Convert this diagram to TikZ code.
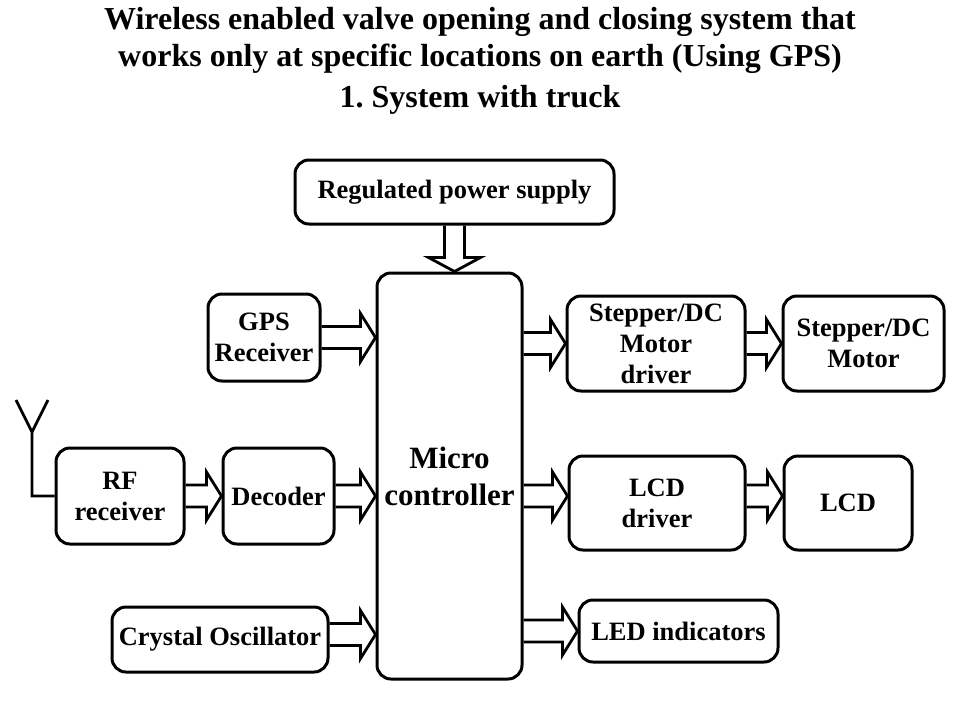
\documentclass[tikz,border=0pt]{standalone}
\usepackage{fontspec}
\setmainfont{Liberation Serif}
\usetikzlibrary{calc}

\newcommand{\harr}[2]{%
  \draw[barrow] let \p1=(#1), \p2=(#2) in
    ({\x1},{\y1+11pt}) -- ({\x2-15pt},{\y1+11pt}) -- ({\x2-15pt},{\y1+24pt}) -- ({\x2},{\y1})
    -- ({\x2-15pt},{\y1-24pt}) -- ({\x2-15pt},{\y1-11pt}) -- ({\x1},{\y1-11pt});}
\newcommand{\varr}[2]{%
  \draw[barrow] let \p1=(#1), \p2=(#2) in
    ({\x1-10pt},{\y1}) -- ({\x1-10pt},{\y2+14pt}) -- ({\x1-26pt},{\y2+14pt}) -- ({\x1},{\y2})
    -- ({\x1+26pt},{\y2+14pt}) -- ({\x1+10pt},{\y2+14pt}) -- ({\x1+10pt},{\y1});}

\begin{document}
\frenchspacing
\begin{tikzpicture}[x=1pt,y=-1pt,
    blk/.style={draw, rounded corners=14pt, line width=3pt, align=center, inner sep=0pt,
      font=\fontsize{26.5}{31}\selectfont\bfseries},
    barrow/.style={draw, line width=2.8pt, line join=miter},
    wire/.style={draw, line width=2.8pt},
    ttl/.style={font=\fontsize{32}{36}\selectfont\bfseries}]
				\useasboundingbox (0,0) rectangle (960,720);
				
				\node[ttl] (t1) at (480,22) {Wireless enabled valve opening and closing system that};
				\node[ttl] (t2) at (480,59) {works only at specific locations on earth (Using GPS)};
				\node[ttl] (t3) at (480,100) {1. System with truck};
				
				\node[blk, minimum width=319, minimum height=64] (psu) at (454.5,192) {Regulated power supply};
				\node[blk, minimum width=145, minimum height=406, font=\fontsize{31}{37}\selectfont\bfseries] (mcu) at (449.5,476) {Micro\\controller};
				\node[blk, minimum width=112, minimum height=87] (gps) at (264,337.5) {GPS\\Receiver};
				\node[blk, minimum width=128, minimum height=96] (rf) at (120,496) {RF\\receiver};
				\node[blk, minimum width=111, minimum height=96] (dec) at (278.5,496) {Decoder};
				\node[blk, minimum width=216, minimum height=65] (xtal) at (220,639.5) {Crystal Oscillator};
				\node[blk, minimum width=178, minimum height=95] (drv) at (656,343.5) {Stepper/DC\\Motor\\driver};
				\node[blk, minimum width=161, minimum height=95] (mot) at (863.5,343.5) {Stepper/DC\\Motor};
				\node[blk, minimum width=176, minimum height=94] (lcdd) at (657,503) {LCD\\driver};
				\node[blk, minimum width=128, minimum height=94] (lcd) at (848,503) {LCD};
				\node[blk, minimum width=199, minimum height=62] (led) at (678.5,631) {LED indicators};
				
				% antenna
				\coordinate (ant) at (32,432);
				\draw[wire] (rf.west) -| (ant) -- (16,400);
				\draw[wire] (ant) -- (48,400);
				
				\varr{psu.south}{psu.south |- mcu.north}
				\harr{gps.east}{gps.east -| mcu.west}
				\harr{rf.east}{dec.west |- rf.east}
				\harr{dec.east}{dec.east -| mcu.west}
				\harr{$(xtal.east)+(0,-5)$}{$(xtal.east -| mcu.west)+(0,-5)$}
				\harr{drv.west -| mcu.east}{drv.west}
				\harr{drv.east}{mot.west |- drv.east}
				\harr{$(lcdd.west -| mcu.east)+(0,-7)$}{$(lcdd.west)+(0,-7)$}
				\harr{$(lcdd.east)+(0,-7)$}{$(lcd.west |- lcdd.east)+(0,-7)$}
				\harr{led.west -| mcu.east}{led.west}
			\end{tikzpicture}
\end{document}
